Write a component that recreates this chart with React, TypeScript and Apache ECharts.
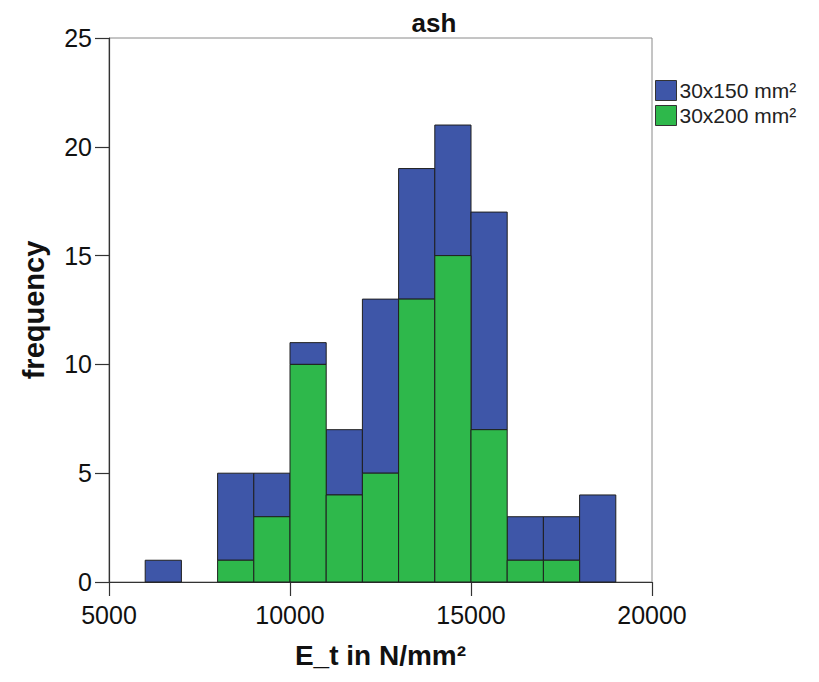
import React, { useEffect, useRef } from "react";
import * as echarts from "echarts";

const binStarts = [6000, 7000, 8000, 9000, 10000, 11000, 12000, 13000, 14000, 15000, 16000, 17000, 18000];
const binWidth = 1000;
const count150 = [1, 0, 4, 2, 1, 3, 8, 6, 6, 10, 2, 2, 4];
const count200 = [0, 0, 1, 3, 10, 4, 5, 13, 15, 7, 1, 1, 0];
const xTicks = [5000, 10000, 15000, 20000];
const yTicks = [0, 5, 10, 15, 20, 25];

const BLUE = "#3E56A8";
const GREEN = "#2EB84B";
const EDGE = "#1f1f1f";
const FONT = "Arial, 'Liberation Sans', sans-serif";

function renderRect(params: any, api: any) {
  const x0 = api.value(0);
  const x1 = api.value(1);
  const y0 = api.value(2);
  const y1 = api.value(3);
  if (y1 <= y0) return null;
  const p0 = api.coord([x0, y0]);
  const p1 = api.coord([x1, y1]);
  return {
    type: "rect",
    shape: { x: p0[0], y: p1[1], width: p1[0] - p0[0], height: p0[1] - p1[1] },
    style: { fill: api.visual("color"), stroke: EDGE, lineWidth: 1 },
  };
}

export default function App() {
  const ref = useRef<HTMLDivElement>(null);
  useEffect(() => {
    if (!ref.current) return;
    const chart = echarts.init(ref.current, null, { renderer: "svg" });
    const greenData = binStarts.map((s, i) => [s, s + binWidth, 0, count200[i]]);
    const blueData = binStarts.map((s, i) => [s, s + binWidth, count200[i], count200[i] + count150[i]]);
    chart.setOption({
      animation: false,
      textStyle: { fontFamily: FONT },
      title: {
        text: "ash",
        left: 426,
        top: 1,
        padding: 0,
        textAlign: "center",
        textStyle: { fontSize: 26, lineHeight: 27, fontWeight: "bold", color: "#111", fontFamily: FONT },
      },
      legend: {
        orient: "vertical",
        left: 642,
        top: 67,
        itemWidth: 21,
        itemHeight: 20,
        itemGap: 4,
        icon: "rect",
        selectedMode: false,
        data: ["30x150 mm²", "30x200 mm²"],
        itemStyle: { borderColor: "#333", borderWidth: 1 },
        textStyle: { fontSize: 21, color: "#222", fontFamily: FONT, padding: [0, 0, 0, -2] },
      },
      grid: {
        left: 101,
        right: 159,
        top: 30,
        bottom: 88,
        show: true,
        borderColor: "#8a8a8a",
        borderWidth: 1,
      },
      xAxis: {
        type: "value",
        min: 5000,
        max: 20000,
        interval: 5000,
        name: "E_t in N/mm²",
        nameLocation: "middle",
        nameGap: 59,
        nameTextStyle: { fontSize: 28, fontWeight: "bold", color: "#111", fontFamily: FONT },
        axisLine: { show: true, lineStyle: { color: "#333", width: 1.2 } },
        axisTick: { show: true, length: 14, lineStyle: { color: "#333", width: 1.2 } },
        axisLabel: {
          fontSize: 25,
          color: "#111",
          margin: 20,
          fontFamily: FONT,
          formatter: (v: number) => (xTicks.includes(v) ? String(v) : ""),
        },
        splitLine: { show: false },
      },
      yAxis: {
        type: "value",
        min: 0,
        max: 25,
        interval: 5,
        name: "frequency",
        nameLocation: "middle",
        nameGap: 61,
        nameTextStyle: { fontSize: 29, fontWeight: "bold", color: "#111", fontFamily: FONT },
        axisLine: { show: true, lineStyle: { color: "#333", width: 1.2 } },
        axisTick: { show: true, length: 14, lineStyle: { color: "#333", width: 1.2 } },
        axisLabel: {
          fontSize: 25,
          color: "#111",
          margin: 17,
          fontFamily: FONT,
          formatter: (v: number) => (yTicks.includes(v) ? String(v) : ""),
        },
        splitLine: { show: false },
      },
      series: [
        {
          name: "30x150 mm²",
          type: "custom",
          renderItem: renderRect,
          itemStyle: { color: BLUE },
          encode: { x: [0, 1], y: [2, 3] },
          data: blueData,
          z: 2,
        },
        {
          name: "30x200 mm²",
          type: "custom",
          renderItem: renderRect,
          itemStyle: { color: GREEN },
          encode: { x: [0, 1], y: [2, 3] },
          data: greenData,
          z: 2,
        },
      ],
    });
    return () => chart.dispose();
  }, []);
  return <div ref={ref} style={{ width: 803, height: 666 }} />;
}
